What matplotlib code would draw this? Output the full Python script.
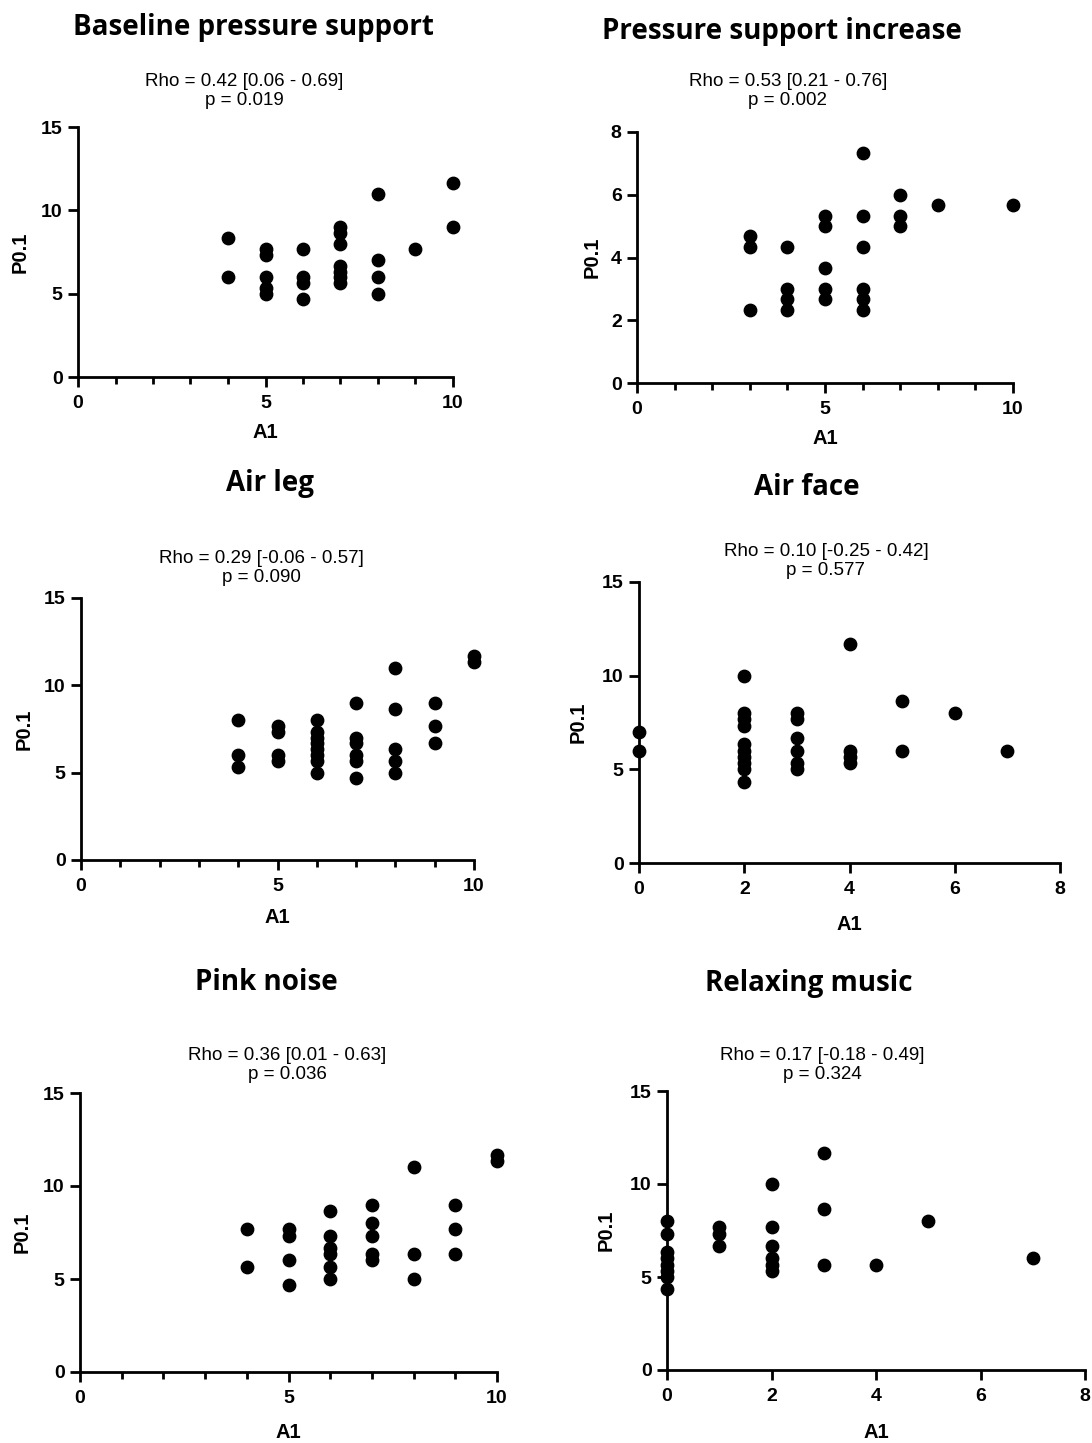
import matplotlib
matplotlib.use("Agg")
import matplotlib.pyplot as plt
from matplotlib.ticker import MultipleLocator

W, H = 1092, 1443

# ---- data (A1 vs P0.1) ----
base_x = [4, 4, 5, 5, 5, 5, 5, 6, 6, 6, 6, 7, 7, 7, 7, 7, 7, 7, 8, 8, 8, 8, 9, 10, 10]
base_y = [8.33, 6, 7.67, 7.33, 6, 5.33, 5, 7.67, 6, 5.67, 4.67,
          9, 8.67, 8, 6.67, 6.33, 6, 5.67, 11, 7, 6, 5, 7.67, 11.67, 9]

psi_x = [3, 3, 3, 4, 4, 4, 4, 5, 5, 5, 5, 5, 6, 6, 6, 6, 6, 6, 7, 7, 7, 8, 10]
psi_y = [4.67, 4.33, 2.33, 4.33, 3, 2.67, 2.33, 5.33, 5, 3.67, 3, 2.67,
         7.33, 5.33, 4.33, 3, 2.67, 2.33, 6, 5.33, 5, 5.67, 5.67]

leg_x = [4, 4, 4, 5, 5, 5, 5, 6, 6, 6, 6, 6, 6, 6, 6,
         7, 7, 7, 7, 7, 7, 8, 8, 8, 8, 8, 9, 9, 9, 10, 10]
leg_y = [8, 6, 5.33, 7.67, 7.33, 6, 5.67, 8, 7.33, 7, 6.67, 6.33, 6, 5.67, 5,
         9, 7, 6.67, 6, 5.67, 4.67, 11, 8.67, 6.33, 5.67, 5, 9, 7.67, 6.67, 11.67, 11.33]

face_x = [0, 0, 2, 2, 2, 2, 2, 2, 2, 2, 2, 2, 3, 3, 3, 3, 3, 3,
          4, 4, 4, 4, 5, 5, 6, 7]
face_y = [7, 6, 10, 8, 7.67, 7.33, 6.33, 6, 5.67, 5.33, 5, 4.33,
          8, 7.67, 6.67, 6, 5.33, 5, 11.67, 6, 5.67, 5.33, 8.67, 6, 8, 6]

pink_x = [4, 4, 5, 5, 5, 5, 6, 6, 6, 6, 6, 6, 7, 7, 7, 7, 7,
          8, 8, 8, 9, 9, 9, 10, 10]
pink_y = [7.67, 5.67, 7.67, 7.33, 6, 4.67, 8.67, 7.33, 6.67, 6.33, 5.67, 5,
          9, 8, 7.33, 6.33, 6, 11, 6.33, 5, 9, 7.67, 6.33, 11.67, 11.33]

music_x = [0, 0, 0, 0, 0, 0, 0, 0, 1, 1, 1, 2, 2, 2, 2, 2, 2,
           3, 3, 3, 4, 5, 7]
music_y = [8, 7.33, 6.33, 6, 5.67, 5.33, 5, 4.33, 7.67, 7.33, 6.67,
           10, 7.67, 6.67, 6, 5.67, 5.33, 11.67, 8.67, 5.67, 5.67, 8, 6]

titles = ["Baseline pressure support", "Pressure support increase", "Air leg",
          "Air face", "Pink noise", "Relaxing music"]
stats = ["Rho = 0.42 [0.06 - 0.69]\np = 0.019",
         "Rho = 0.53 [0.21 - 0.76]\np = 0.002",
         "Rho = 0.29 [-0.06 - 0.57]\np = 0.090",
         "Rho = 0.10 [-0.25 - 0.42]\np = 0.577",
         "Rho = 0.36 [0.01 - 0.63]\np = 0.036",
         "Rho = 0.17 [-0.18 - 0.49]\np = 0.324"]
xs = [base_x, psi_x, leg_x, face_x, pink_x, music_x]
ys = [base_y, psi_y, leg_y, face_y, pink_y, music_y]
xmax = [10, 10, 10, 8, 10, 8]
ymax = [15, 8, 15, 15, 15, 15]

# pixel layout: axes (x0, x1, ytop, ybottom), title / stats centre, label centres
axes_px = [(78, 453, 127, 377), (637, 1013, 132, 383), (81, 474, 598, 860),
           (639, 1060, 582, 863), (80, 497, 1093, 1372), (667, 1085, 1091, 1370)]
title_px = [(253, 28), (782, 32), (270, 484), (807, 488), (266, 983), (809, 983)]
stats_px = [(244, 91), (788, 91), (261, 568), (826, 561), (287, 1065), (822, 1065)]
xlab_y = [433, 438, 918, 925, 1432, 1432]
ylab_x = [20, 592, 24, 578, 22, 606]

fig = plt.figure(figsize=(W / 100, H / 100), dpi=100)

for i in range(6):
    x0, x1, yt, yb = axes_px[i]
    ax = fig.add_axes([x0 / W, 1 - yb / H, (x1 - x0) / W, (yb - yt) / H])
    ax.scatter(xs[i], ys[i], s=80, color='black', zorder=3, clip_on=False)
    ax.set_xlim(0, xmax[i])
    ax.set_ylim(0, ymax[i])
    for s in ['top', 'right']:
        ax.spines[s].set_visible(False)
    for s in ['left', 'bottom']:
        ax.spines[s].set_linewidth(2)
    if xmax[i] == 10:
        ax.xaxis.set_major_locator(MultipleLocator(5))
        ax.xaxis.set_minor_locator(MultipleLocator(1))
    else:
        ax.xaxis.set_major_locator(MultipleLocator(2))
    ax.yaxis.set_major_locator(MultipleLocator(5 if ymax[i] == 15 else 2))
    ax.tick_params(which='major', length=7, width=2, labelsize=14, pad=4)
    ax.tick_params(axis='x', which='major', pad=6)
    ax.tick_params(which='minor', length=5, width=2)
    for lab in ax.get_xticklabels() + ax.get_yticklabels():
        lab.set_fontweight('bold')
        lab.set_family('Liberation Sans')
    ax.set_xlabel('A1', fontsize=14.5, fontweight='bold', family='Liberation Sans')
    ax.set_ylabel('P0.1', fontsize=14.5, fontweight='bold', family='Liberation Sans')
    ax.xaxis.set_label_coords(0.5, (yb - xlab_y[i]) / (yb - yt))
    ax.yaxis.set_label_coords((ylab_x[i] - x0) / (x1 - x0), 0.5)
    ax.xaxis.label.set_va('center')
    ax.yaxis.label.set_va('center')

    tx, ty = title_px[i]
    fig.text(tx / W, 1 - ty / H, titles[i], ha='center', va='center',
             fontsize=20, fontweight='bold', family='Open Sans')
    sx, sy = stats_px[i]
    fig.text(sx / W, 1 - sy / H, stats[i], ha='center', va='center',
             fontsize=13.5, family='Liberation Sans', linespacing=1.1)

fig.savefig('out.png', dpi=100)
